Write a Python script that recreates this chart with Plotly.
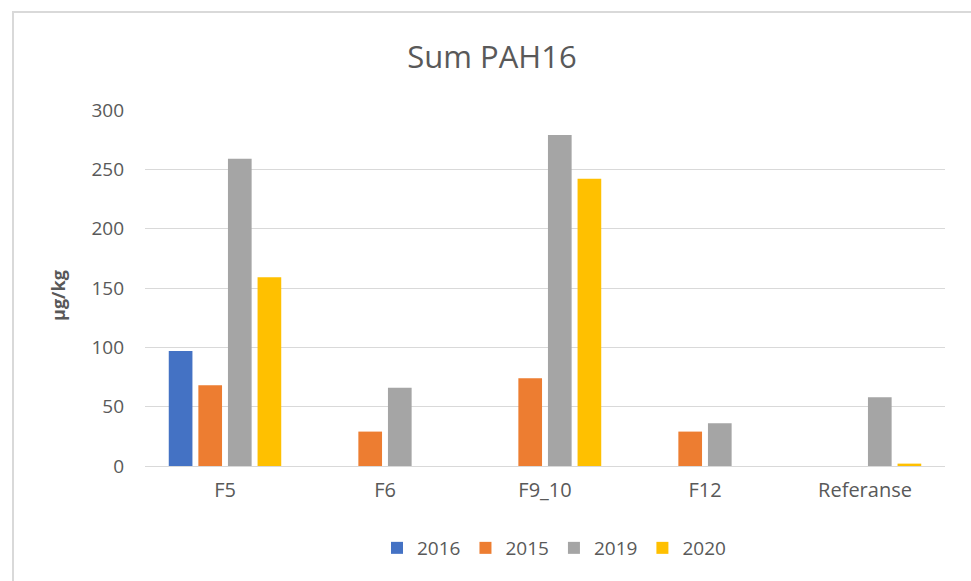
import plotly.graph_objects as go

categories = ["F5", "F6", "F9_10", "F12", "Referanse"]
series_names = ["2016", "2015", "2019", "2020"]
v2016 = [97, None, None, None, None]
v2015 = [68, 29, 74, 29, None]
v2019 = [259, 66, 279, 36, 58]
v2020 = [159, None, 242, None, 2]
y_ticks = [0, 50, 100, 150, 200, 250, 300]

colors = ["#4472C4", "#ED7D31", "#A5A5A5", "#FFC000"]
values = [v2016, v2015, v2019, v2020]

W, H = 971, 581
L, R, T, B = 145, 26, 110, 115
pw, ph = W - L - R, H - T - B

fig = go.Figure()
for name, vals, c in zip(series_names, values, colors):
    fig.add_trace(go.Bar(x=categories, y=vals, name=name,
                         marker=dict(color=c, line=dict(width=0))))

font = "Open Sans, Noto Sans, DejaVu Sans, sans-serif"
txt = "#595959"

def px(x):
    return (x - L) / pw

def py(y):
    return (H - B - y) / ph

fig.update_layout(
    width=W, height=H,
    margin=dict(l=L, r=R, t=T, b=B),
    paper_bgcolor="white", plot_bgcolor="white",
    barmode="group", bargap=0.26, bargroupgap=0.2,
    font=dict(family=font, color=txt),
    title=dict(text="Sum PAH16", x=492 / W, xref="container", xanchor="center",
               y=1 - 57 / H, yref="container", yanchor="middle",
               font=dict(size=31, color=txt, family=font)),
    legend=dict(orientation="h", x=px(554), xanchor="center", y=py(548), yanchor="middle",
                font=dict(size=19, color=txt), itemwidth=30, traceorder="normal"),
    xaxis=dict(showgrid=False, showline=False, ticks="", tickfont=dict(size=20, color=txt),
               ticklabelstandoff=10),
    yaxis=dict(range=[0, 300], tickvals=y_ticks, showgrid=True, gridcolor="#D9D9D9",
               gridwidth=1, zeroline=True, zerolinecolor="#D9D9D9", zerolinewidth=1,
               showline=False, ticks="", tickfont=dict(size=19, color=txt),
               ticklabelstandoff=20),
    shapes=[dict(type="rect", xref="paper", yref="paper",
                 x0=px(13), y0=py(12), x1=px(W + 10), y1=py(H + 10),
                 line=dict(color="#D9D9D9", width=2), fillcolor="rgba(0,0,0,0)", layer="below")],
    annotations=[dict(text="<b>µg/kg</b>", xref="paper", yref="paper", x=px(58), y=py(296),
                      xanchor="center", yanchor="middle", textangle=-90, showarrow=False,
                      font=dict(size=18, color=txt, family=font))],
)

fig.write_html("out.html", config={"displayModeBar": False},
               post_script="document.body.style.margin='0';document.body.style.overflow='hidden';")
